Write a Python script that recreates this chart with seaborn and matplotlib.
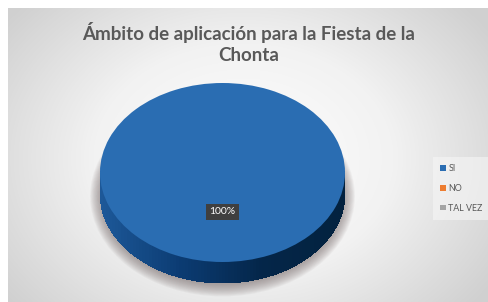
import numpy as np
import matplotlib
matplotlib.use('Agg')
import matplotlib.pyplot as plt
import seaborn as sns
from matplotlib.colors import LinearSegmentedColormap
from matplotlib.patches import Ellipse, Polygon

# data
categories = ['SI', 'NO', 'TAL VEZ']
values = [100, 0, 0]
colors = ['#2A6DB2', '#ED7D31', '#A5A5A5']
title = 'Ámbito de aplicación para la Fiesta de la\nChonta'

sns.set_theme(style='white')
plt.rcParams['font.family'] = ['Lato', 'DejaVu Sans']

W, H = 488, 302
fig = plt.figure(figsize=(W / 100, H / 100), dpi=100)
fig.patch.set_facecolor('white')


def px_rect(x0, y0, x1, y1):
    # pixel box (top-left origin) -> figure fraction rect
    return [x0 / W, 1 - y1 / H, (x1 - x0) / W, (y1 - y0) / H]


# chart area with radial gray gradient
bg = fig.add_axes(px_rect(8, 8, W, H))
yy, xx = np.mgrid[0:294, 0:480]
r = np.sqrt(((xx - 235) / 300.0) ** 2 + ((yy - 150) / 230.0) ** 2)
bg_cmap = LinearSegmentedColormap.from_list('bg', ['#ffffff', '#f2f2f2', '#d0d0d0'])
bg.imshow(np.clip(r, 0, 1), cmap=bg_cmap, vmin=0, vmax=1, aspect='auto')
bg.set_axis_off()

# title
fig.text(249 / W, 1 - 43 / H, title, ha='center', va='center', fontsize=13.5,
         fontweight='bold', color='#595959', linespacing=1.3)

# pie box: top face ellipse 83..262, side down to 284
pie_rect = px_rect(100, 83, 345, 284)
ylims = (1 - 201 / 89.5, 1)
depth = 21 / 89.5

# 3D side + shadow on its own axes underneath the pie
side_ax = fig.add_axes(pie_rect)
side_ax.set_axis_off()
for i in range(14):
    side_ax.add_patch(Ellipse((0, -depth - 0.03), 1.98 + i * 0.014, 1.98 + i * 0.02,
                              fc='#7a6e6e', ec='none', alpha=0.06, clip_on=False))
side_cmap = LinearSegmentedColormap.from_list('side', ['#1d5898', '#0b3b72', '#042649', '#03223f'])
edges = np.linspace(-1, 1, 81)
for i in range(len(edges) - 1):
    # strips overlap a little so no seams show
    xs = np.linspace(edges[i], min(edges[i + 1] + 0.015, 1), 5)
    top = -np.sqrt(np.clip(1 - xs ** 2, 0, None))
    pts = np.vstack([np.column_stack([xs, top + 0.01]),
                     np.column_stack([xs[::-1], top[::-1] - depth])])
    c = side_cmap(i / (len(edges) - 2))
    side_ax.add_patch(Polygon(pts, closed=True, fc=c, ec='none', lw=0,
                              antialiased=False, clip_on=False))
side_ax.set_xlim(-1, 1)
side_ax.set_ylim(*ylims)

# pie
ax = fig.add_axes(pie_rect)
wedges, texts, autotexts = ax.pie(
    values, colors=colors, startangle=90, counterclock=False,
    autopct=lambda p: f'{p:.0f}%' if p > 0 else '', pctdistance=0.44,
    wedgeprops=dict(linewidth=0),
    textprops=dict(color='white', fontsize=7.5))
for at in autotexts:
    at.set_bbox(dict(boxstyle='square,pad=0.3', fc='#3f3f3f', ec='none'))

ax.set_aspect('auto', adjustable='box')
ax.set_position(pie_rect)
ax.set_xlim(-1, 1)
ax.set_ylim(*ylims)
ax.set_axis_off()

# legend
leg = fig.legend(wedges, categories, loc='upper left',
                 bbox_to_anchor=(436 / W, 1 - 160 / H), frameon=True,
                 fontsize=6.4, handlelength=0.6, handleheight=0.6, handletextpad=0.3,
                 labelspacing=1.2, borderpad=0.5, borderaxespad=0, labelcolor='#595959')
leg.get_frame().set_facecolor('#f6f6f6')
leg.get_frame().set_alpha(0.6)
leg.get_frame().set_edgecolor('none')
leg.get_frame().set_boxstyle('square')

fig.savefig('out.png', dpi=100)
